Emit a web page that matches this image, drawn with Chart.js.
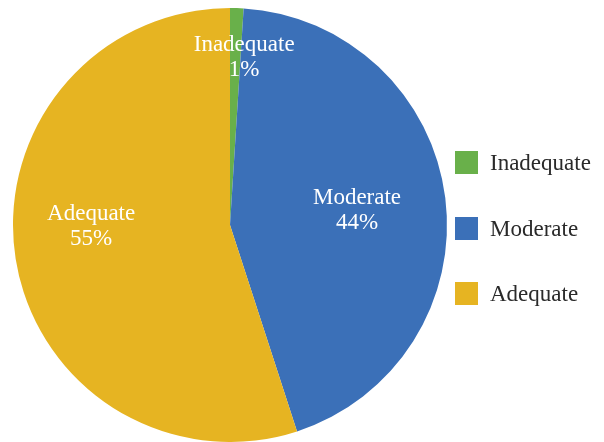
<!DOCTYPE html>
<html>
<head>
<meta charset="utf-8">
<script src="https://cdn.jsdelivr.net/npm/chart.js@4"></script>
<style>
  html,body{margin:0;padding:0;background:#fff;}
  #wrap{width:604px;height:442px;}
</style>
</head>
<body>
<div id="wrap"><canvas id="pieChart" width="604" height="442"></canvas></div>
<script>
// Chart data
const categories = ['Inadequate', 'Moderate', 'Adequate'];
const shares = [1, 44, 55];
const sliceColors = ['#69b04a', '#3b70b8', '#e6b422'];
// label placement inside slices: fraction of radius + small angle nudge (deg)
const labelRadius = [0.78, 0.59, 0.64];
const labelNudge = [3, 0, 9];

const FONT = "'Liberation Serif', 'DejaVu Serif', serif";

// draws "Name / NN%" inside each slice
const sliceLabels = {
  id: 'sliceLabels',
  afterDatasetsDraw(chart){
    const ctx = chart.ctx;
    const meta = chart.getDatasetMeta(0);
    ctx.save();
    ctx.fillStyle = '#ffffff';
    ctx.font = '23px ' + FONT;
    ctx.textAlign = 'center';
    ctx.textBaseline = 'middle';
    meta.data.forEach((arc, i)=>{
      const p = arc.getProps(['x','y','startAngle','endAngle','outerRadius'], true);
      const mid = (p.startAngle + p.endAngle) / 2 + labelNudge[i] * Math.PI / 180;
      const r = p.outerRadius * labelRadius[i];
      const cx = p.x + Math.cos(mid) * r;
      const cy = p.y + Math.sin(mid) * r;
      ctx.fillText(categories[i], cx, cy - 11);
      ctx.fillText(shares[i] + '%', cx, cy + 14);
    });
    ctx.restore();
  }
};

// legend on the right, drawn by hand so the spacing matches
const sideLegend = {
  id: 'sideLegend',
  afterDraw(chart){
    const ctx = chart.ctx;
    const area = chart.chartArea;
    const x0 = area.right + 8;
    const rowTop = [151, 217, 282];
    ctx.save();
    ctx.font = '23px ' + FONT;
    ctx.textBaseline = 'middle';
    ctx.textAlign = 'left';
    chart.data.labels.forEach((lab, i)=>{
      ctx.fillStyle = chart.data.datasets[0].backgroundColor[i];
      ctx.fillRect(x0, rowTop[i], 23, 23);
      ctx.fillStyle = '#2a2a2a';
      ctx.fillText(lab, x0 + 35, rowTop[i] + 13);
    });
    ctx.restore();
  }
};

new Chart(document.getElementById('pieChart'), {
  type: 'pie',
  data: {
    labels: categories,
    datasets: [{
      data: shares,
      backgroundColor: sliceColors,
      borderWidth: 0
    }]
  },
  options: {
    responsive: false,
    animation: false,
    layout: { padding: { top: 8, bottom: 0, left: 13, right: 157 } },
    plugins: {
      tooltip: { enabled: false },
      legend: { display: false }
    }
  },
  plugins: [sliceLabels, sideLegend]
});
</script>
</body>
</html>
